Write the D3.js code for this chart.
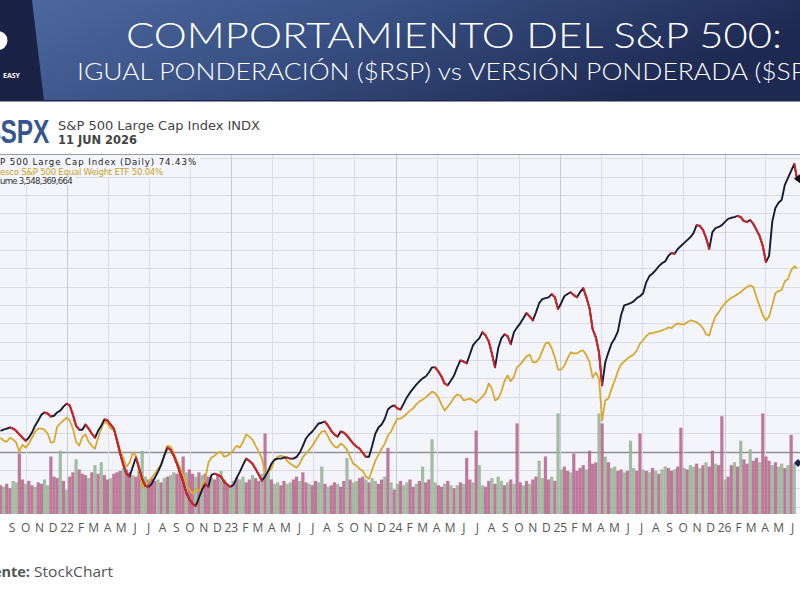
<!DOCTYPE html>
<html><head><meta charset="utf-8">
<script src="https://cdn.jsdelivr.net/npm/d3@7"></script>
<style>html,body{margin:0;padding:0;background:#fff;overflow:hidden}</style>
</head><body><svg id="c" width="800" height="600"></svg>
<script>
// ---------------- DATA ----------------
const startWeek = "2021-08-06";       // first weekly point
const endDate = "2026-06-11";         // last (daily) point
const spx = [5.7,6.0,6.3,6.6,6.3,5.7,4.7,3.8,3.0,3.8,
5.2,7.1,8.5,10.1,10.7,10.4,9.6,9.8,10.7,11.2,
12.3,13.1,12.6,10.1,7.1,6.0,6.0,7.4,6.3,4.9,
3.8,5.7,7.1,8.8,8.5,7.4,6.3,3.0,-0.5,-3.6,
-6.0,-6.8,-4.1,-1.6,-4.4,-7.4,-9.3,-9.6,-8.8,-7.1,
-5.5,-3.6,-1.1,1.1,0.5,-1.1,-3.3,-5.7,-8.2,-11.2,
-13.1,-14.2,-14.8,-12.6,-10.4,-8.8,-9.6,-6.3,-6.0,-6.3,
-6.8,-8.2,-9.0,-9.6,-9.0,-7.1,-5.5,-3.6,-1.9,-2.5,
-3.3,-4.7,-6.3,-7.9,-6.8,-5.2,-3.3,-2.2,-1.9,-1.9,
-1.6,-1.6,-1.9,-1.9,-1.4,-0.3,1.6,3.6,4.7,5.5,
6.6,7.7,7.9,8.2,7.1,5.7,4.7,4.1,5.5,5.2,
4.4,3.3,2.2,1.4,0.8,-0.3,-1.4,-1.4,1.6,4.9,
6.6,7.4,9.0,11.5,12.3,12.6,11.8,11.5,13.1,14.8,
16.1,17.2,18.3,19.2,20.0,20.5,21.6,23.0,23.0,21.9,
20.5,18.6,18.1,19.4,20.8,23.0,24.9,24.6,24.1,26.5,
29.0,30.1,30.9,32.6,31.7,30.1,26.8,23.0,28.2,30.9,
32.0,31.5,29.3,32.6,33.9,35.0,36.4,37.8,36.9,35.8,
38.0,40.5,41.6,41.9,42.1,43.0,42.1,38.9,40.5,42.4,
43.0,43.5,42.7,42.1,43.5,44.6,42.1,39.1,33.4,31.2,
27.1,18.1,24.4,27.1,29.5,30.9,32.8,37.2,39.9,40.2,
40.5,41.0,41.9,42.4,43.2,46.2,47.9,48.6,49.5,50.6,
51.4,51.9,53.4,54.2,54.0,55.3,56.1,56.9,57.7,58.5,
59.6,61.8,61.6,60.5,58.3,55.3,59.9,61.0,61.3,61.8,
62.7,63.5,63.8,64.0,64.3,64.0,62.9,62.7,63.2,62.1,
60.5,58.8,56.1,51.7,53.4,62.7,66.5,67.9,68.7,72.8,
74.7,76.6,78.5];
const rsp = [3.8,3.0,2.7,3.8,3.3,2.5,0.0,1.9,1.1,2.2,
3.8,5.5,6.3,6.3,6.0,4.9,2.5,2.7,6.8,7.7,
8.5,9.3,8.5,6.3,2.7,1.6,4.1,4.7,2.7,1.6,
0.8,3.8,6.3,8.2,7.7,6.3,6.0,3.6,0.3,-1.9,
-4.1,-3.0,-0.3,-1.1,-5.2,-9.8,-9.0,-8.2,-7.1,-6.0,
-4.7,-3.6,-0.8,1.6,1.4,-0.3,-2.5,-4.4,-6.3,-8.5,
-10.4,-11.5,-10.1,-10.7,-9.6,-7.7,-3.0,-1.6,-1.1,-0.3,
0.0,-1.4,-1.1,-0.5,0.5,1.6,1.1,2.7,4.7,4.1,
3.3,1.6,0.0,-1.9,-6.0,-5.5,-4.7,-2.2,-1.4,-1.1,
-1.4,-2.5,-3.3,-3.8,-4.4,-3.3,-1.4,-0.5,0.5,1.6,
3.0,4.4,5.5,5.7,4.1,2.5,1.4,1.1,2.2,1.6,
0.5,-1.4,-3.3,-3.8,-4.7,-5.2,-6.8,-7.4,-4.9,-2.5,
-0.8,0.8,2.2,4.4,5.5,7.4,9.0,9.0,9.6,10.4,
11.2,11.8,12.9,13.7,14.2,14.8,15.6,16.4,15.9,14.8,
12.9,11.2,12.3,13.4,14.8,15.6,15.3,14.0,14.2,14.5,
14.0,13.4,14.2,15.0,16.1,18.6,17.2,14.0,14.5,16.4,
19.2,20.8,19.2,20.5,23.0,23.8,24.9,26.0,26.5,24.4,
24.4,25.4,27.4,29.5,29.8,28.2,25.7,22.4,22.4,23.5,
25.4,27.1,26.8,26.8,27.4,27.6,26.3,24.4,20.2,21.6,
20.0,8.5,14.0,14.5,17.2,19.4,21.9,23.8,24.6,25.4,
26.0,26.5,27.6,29.5,30.4,31.5,32.3,32.3,32.6,32.8,
33.1,33.4,33.9,33.7,34.5,35.0,34.7,34.7,35.3,35.8,
35.6,35.3,34.7,33.7,32.0,31.7,34.7,36.9,38.0,39.4,
40.5,41.3,41.9,42.4,43.0,43.5,44.3,44.9,45.4,44.9,
42.1,39.7,37.2,35.8,36.9,39.9,43.2,43.8,44.1,46.5,
47.1,49.5,50.6];
const spxLast = 74.43;
const rspLast = 50.04;
// weekly volume, billions of shares
const volume = [2.0,1.9,2.1,1.8,2.3,2.2,4.2,2.4,2.1,2.3,2.0,1.9,2.2,2.1,2.4,2.0,4.0,2.6,2.5,4.4,2.3,1.7,
2.6,2.9,3.8,3.1,2.8,2.7,2.5,2.9,3.4,2.8,3.6,2.7,2.4,2.5,2.8,2.9,3.0,3.2,3.1,2.9,2.7,2.6,3.0,4.4,2.6,2.4,2.5,2.3,2.4,2.2,2.5,2.6,2.7,2.9,2.8,3.0,4.0,2.9,3.1,2.8,2.6,2.9,2.7,2.8,2.6,2.5,2.4,2.7,3.0,2.4,2.0,1.8,
2.3,2.5,2.4,2.6,2.2,2.4,2.7,2.5,2.3,2.8,5.6,2.9,2.4,2.1,2.2,2.0,2.3,2.1,2.2,2.4,2.6,2.3,2.9,2.2,2.1,2.0,2.3,2.2,3.3,2.1,1.9,2.0,2.2,2.1,1.9,2.3,3.9,2.4,2.2,2.3,2.5,2.6,2.4,2.2,2.5,2.3,2.1,2.4,2.6,4.6,2.2,1.7,
2.1,2.3,2.0,2.2,2.4,1.9,2.1,2.3,3.3,2.2,2.4,5.2,2.2,2.0,1.9,2.1,2.3,2.0,1.8,2.0,2.2,2.1,3.9,2.4,2.2,5.8,3.4,2.0,1.9,2.3,2.5,2.1,2.6,2.3,2.0,2.2,2.4,2.1,6.3,2.2,2.0,2.3,2.1,2.4,2.6,3.7,2.5,4.0,2.4,2.6,2.3,7.0,
3.1,3.3,3.0,2.9,4.2,3.0,3.2,3.4,3.1,4.4,3.5,3.6,7.0,6.3,4.0,3.6,3.2,3.3,3.0,3.1,2.9,3.0,5.1,3.2,3.0,5.6,3.1,3.0,2.9,3.2,3.0,2.8,3.1,3.3,3.2,3.0,3.1,3.3,6.0,3.2,3.1,3.4,3.3,3.5,3.2,3.4,3.6,3.3,4.4,3.5,3.4,6.8,
2.4,2.6,3.4,3.6,3.3,5.1,3.8,3.5,4.5,3.7,3.9,3.6,7.0,4.0,3.7,3.4,3.6,3.3,3.5,3.2,3.4,5.5,3.5];
// bar colour per week: u = up (green), d = down (red)
const volumeDir = ("dudduudduddudduudddudu" +
  "ddudddudud" + "uddudddudd" + "udduudddud" + "uduudddudd" + "ududduddud" + "du" +
  "uduudduddu" + "duduudduud" + "duddudduud" + "uddudduduu" + "dduduuddud" + "ud" +
  "uduuddudud" + "duuddududu" + "dudduduudd" + "uduudududd" + "ududduuddu" + "du" +
  "udduddddud" + "ddududuudd" + "uduuddudud" + "uduudduddu" + "duudududdu" + "dd" +
  "uddududdud" + "duddduduud" + "udu").split("");
const volumeLast = 3.548369664;
const firstLabelMonth = "2021-09-01";
const monthLabels = ["S","O","N","D",
"22","F","M","A","M","J","J","A","S","O","N","D",
"23","F","M","A","M","J","J","A","S","O","N","D",
"24","F","M","A","M","J","J","A","S","O","N","D",
"25","F","M","A","M","J","J","A","S","O","N","D",
"26","F","M","A","M","J"];
const legendLines = [
  {text:"$SPX S&P 500 Large Cap Index (Daily) 74.43%", key:"spx"},
  {text:"Invesco S&P 500 Equal Weight ETF 50.04%", key:"rsp"},
  {text:"Volume 3,548,369,664", key:"vol"}
];

// ---------------- DRAW ----------------
const svg = d3.select("#c");
const parse = d3.timeParse("%Y-%m-%d");
const t0 = parse(startWeek);
const tEnd = parse(endDate);
const weekDates = spx.map((_, i) => d3.timeDay.offset(t0, 7 * i));
const lineDates = weekDates.concat([tEnd]);
const spxPts = spx.concat([spxLast]);
const rspPts = rsp.concat([rspLast]);

const plotTop = 154, plotBot = 514;
const x = d3.scaleTime().domain([parse("2021-08-05"), tEnd]).range([0, 797]);
const y = d3.scaleLinear().domain([-17, 81.2]).range([plotBot, plotTop]);
const yv = d3.scaleLinear().domain([0, 8]).range([plotBot, 399]);

const defs = svg.append("defs");
const g1 = defs.append("linearGradient").attr("id","hdr").attr("x1","0").attr("x2","1").attr("y1","0").attr("y2","0.3");
g1.append("stop").attr("offset","0").attr("stop-color","#4d6a9f");
g1.append("stop").attr("offset","0.45").attr("stop-color","#3a5286");
g1.append("stop").attr("offset","1").attr("stop-color","#1d2951");
defs.append("clipPath").attr("id","plotclip").append("rect")
  .attr("x",0).attr("y",plotTop).attr("width",800).attr("height",plotBot-plotTop);

// header
svg.append("rect").attr("x",0).attr("y",0).attr("width",800).attr("height",101).attr("fill","url(#hdr)");
svg.append("path").attr("d","M0,0L32,0L44,101L0,101Z").attr("fill","#1a2246");
svg.append("circle").attr("cx",-2).attr("cy",40.5).attr("r",9.5).attr("fill","#fff");
svg.append("text").attr("x",20).attr("y",78).attr("text-anchor","end")
  .attr("font-family","'Open Sans',sans-serif").attr("font-weight","700").attr("font-size",7)
  .attr("fill","#fff").text("EASY");
svg.append("rect").attr("x",0).attr("y",100).attr("width",800).attr("height",1.5).attr("fill","#1c2548");
svg.append("text").attr("x",126).attr("y",48)
  .attr("font-family","Lato,'Open Sans',sans-serif").attr("font-weight","300").attr("font-size",35)
  .attr("fill","#fff").attr("textLength",656).attr("lengthAdjust","spacingAndGlyphs")
  .text("COMPORTAMIENTO DEL S&P 500:");
svg.append("text").attr("x",77).attr("y",80)
  .attr("font-family","Lato,'Open Sans',sans-serif").attr("font-weight","300").attr("font-size",24)
  .attr("fill","#fff").attr("textLength",752).attr("lengthAdjust","spacingAndGlyphs")
  .text("IGUAL PONDERACIÓN ($RSP) vs VERSIÓN PONDERADA ($SPX)");

// chart title block: "$SPX" with the "S" starting at the left edge
const tk = svg.append("g");
const tkText = tk.append("text").attr("x",0).attr("y",0)
  .attr("font-family","'Liberation Sans',Arial,sans-serif").attr("font-weight","700").attr("font-size",34)
  .attr("fill","#35578e").text("$SPX");
const dollarW = tkText.node().getSubStringLength(0,1);
tk.attr("transform",`translate(${0.5 - 0.72*dollarW},143) scale(0.72,1)`);
svg.append("text").attr("x",58).attr("y",130)
  .attr("font-family","'DejaVu Sans',Verdana,sans-serif").attr("font-size",12.5).attr("fill","#444")
  .attr("textLength",202).attr("lengthAdjust","spacingAndGlyphs").text("S&P 500 Large Cap Index INDX");
svg.append("text").attr("x",58).attr("y",144)
  .attr("font-family","'DejaVu Sans',Verdana,sans-serif").attr("font-weight","700").attr("font-size",12.5).attr("fill","#444")
  .attr("textLength",79).attr("lengthAdjust","spacingAndGlyphs").text("11 JUN 2026");

// plot background
svg.append("rect").attr("x",0).attr("y",plotTop).attr("width",800).attr("height",plotBot-plotTop).attr("fill","#f4f5fa");
const plot = svg.append("g").attr("clip-path","url(#plotclip)");

// horizontal grid
const hTicks = d3.range(-15, 81, 5);
plot.selectAll("line.h").data(hTicks).enter().append("line")
  .attr("x1",0).attr("x2",800).attr("y1",d=>Math.round(y(d))+0.5).attr("y2",d=>Math.round(y(d))+0.5)
  .attr("stroke",d=>d===0?"#8e8e96":"#dadbe4").attr("stroke-width",d=>d===0?1.4:1);
// vertical grid (quarterly)
const vTicks = d3.timeMonth.range(parse("2021-10-01"), tEnd, 3);
plot.selectAll("line.v").data(vTicks).enter().append("line")
  .attr("x1",d=>Math.round(x(d))+0.5).attr("x2",d=>Math.round(x(d))+0.5).attr("y1",plotTop).attr("y2",plotBot)
  .attr("stroke",d=>d.getMonth()===0?"#c9cad3":"#dcdde6").attr("stroke-width",1);

// volume bars
plot.selectAll("rect.vol").data(volume).enter().append("rect")
  .attr("x",(d,i)=>x(weekDates[i]) - 1.6).attr("width",3.2)
  .attr("y",d=>yv(d)).attr("height",d=>plotBot - yv(d))
  .attr("fill",(d,i)=>volumeDir[i]==="u" ? "#95b190" : "#b4628a")
  .attr("opacity",0.85);

// legend background + text
const legY = [165, 174.5, 184];
const legVisFrom = [7, 3, 3];
const legVisW = [197, 163, 72];
const legCol = {spx:"#222", rsp:"#c9a227", vol:"#333"};
svg.append("rect").attr("x",0).attr("y",plotTop+1).attr("width",200).attr("height",12).attr("fill","#f4f5fa");
svg.append("rect").attr("x",0).attr("y",plotTop+13).attr("width",166).attr("height",10).attr("fill","#f4f5fa");
svg.append("rect").attr("x",0).attr("y",plotTop+23).attr("width",75).attr("height",8).attr("fill","#f4f5fa");
legendLines.forEach((l,i)=>{
  const t = svg.append("text").attr("x",0).attr("y",legY[i])
    .attr("font-family","'DejaVu Sans',Verdana,sans-serif").attr("font-size",8.6)
    .attr("fill",legCol[l.key]).text(l.text);
  const n = l.text.length, k = legVisFrom[i];
  const vis = t.node().getSubStringLength(k, n - k);
  const ls = (legVisW[i] - vis) / (n - k);
  t.attr("letter-spacing", ls);
  const hidden = t.node().getSubStringLength(0, k);
  t.attr("x", -hidden);
});

// RSP line
plot.append("path").datum(rspPts.map((v,i)=>[x(lineDates[i]), y(v)]))
  .attr("d", d3.line()).attr("fill","none").attr("stroke","#d8a930").attr("stroke-width",1.8)
  .attr("stroke-linejoin","round");
// SPX line: black with red down segments
const spxXY = spxPts.map((v,i)=>[x(lineDates[i]), y(v)]);
plot.append("path").datum(spxXY).attr("d", d3.line()).attr("fill","none")
  .attr("stroke","#151a35").attr("stroke-width",1.9).attr("stroke-linejoin","round");
const downSeg = d3.range(1, spxPts.length).filter(i => spxPts[i] < spxPts[i-1]);
plot.selectAll("line.dn").data(downSeg).enter().append("line")
  .attr("x1",i=>spxXY[i-1][0]).attr("y1",i=>spxXY[i-1][1])
  .attr("x2",i=>spxXY[i][0]).attr("y2",i=>spxXY[i][1])
  .attr("stroke","#d42323").attr("stroke-width",1.9).attr("stroke-linecap","round");

// end markers
const ex = x(tEnd);
svg.append("path").attr("d",`M${ex-3},${y(spxLast)}l6,-4.5l0,9z`).attr("fill","#111");
svg.append("path").attr("d",`M${ex-3},${yv(volumeLast)}l4,-4l4,4l-4,4z`).attr("fill","#1a2550");

// top border
svg.append("line").attr("x1",0).attr("x2",800).attr("y1",plotTop+0.5).attr("y2",plotTop+0.5)
  .attr("stroke","#9a9aa4").attr("stroke-width",1);

// x axis labels
const m0 = parse(firstLabelMonth);
svg.selectAll("text.xl").data(monthLabels).enter().append("text")
  .attr("x",(d,i)=>x(d3.timeMonth.offset(m0, i)))
  .attr("y",532).attr("text-anchor","middle")
  .attr("font-family","'Open Sans',sans-serif").attr("font-size",12).attr("fill","#555")
  .text(d=>d);

// source
svg.append("text").attr("x",30).attr("y",577).attr("text-anchor","end")
  .attr("font-family","'Open Sans',sans-serif").attr("font-weight","700").attr("font-size",14.5).attr("fill","#555")
  .text("Fuente:");
svg.append("text").attr("x",34).attr("y",577)
  .attr("font-family","'Open Sans',sans-serif").attr("font-size",14.5).attr("fill","#555")
  .attr("textLength",79).attr("lengthAdjust","spacingAndGlyphs").text("StockChart");
</script></body></html>
